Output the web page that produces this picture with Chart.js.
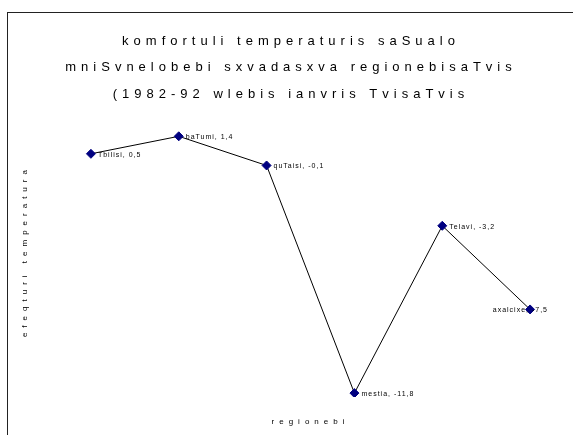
<!DOCTYPE html>
<html>
<head>
<meta charset="utf-8">
<script src="https://cdn.jsdelivr.net/npm/chart.js@4"></script>
<style>
    html, body { margin: 0; padding: 0; background: #fff; overflow: hidden; width: 573px; height: 435px; }
    #frame { position: absolute; left: 7px; top: 12px; width: 600px; height: 440px; border: 1px solid #222; background: #fff; }
    #chart { display: block; }
</style>
</head>
<body>
<div id="frame"><canvas id="chart" width="600" height="440"></canvas></div>
<script>
// ─── data ───
const titleLines = [
    'komfortuli temperaturis saSualo',
    'mniSvnelobebi sxvadasxva regionebisaTvis',
    '(1982-92 wlebis ianvris TvisaTvis'
];
const regions = ['Tbilisi', 'baTumi', 'quTaisi', 'mestia', 'Telavi', 'axalcixe'];
const temps = [0.5, 1.4, -0.1, -11.8, -3.2, -7.5];
const xTitle = 'regionebi';
const yTitle = 'efeqturi temperatura';
const yMin = -12;
const yMax = 3;

const fontFamily = '"Liberation Sans", Arial, sans-serif';

function fmt(v) {
    return v.toFixed(1).replace('.', ',');
}

// wide letter spacing for title / axis titles, tight for point labels
const spacingPlugin = {
    id: 'spacing',
    beforeDraw(chart) {
        chart.ctx.letterSpacing = '5px';
    },
    beforeDatasetsDraw(chart) {
        chart.ctx.letterSpacing = '0px';
    },
    afterDatasetsDraw(chart) {
        const ctx = chart.ctx;
        const meta = chart.getDatasetMeta(0);
        ctx.save();
        ctx.letterSpacing = '1px';
        ctx.font = '7px ' + fontFamily;
        ctx.fillStyle = '#000';
        ctx.textBaseline = 'middle';
        ctx.textAlign = 'left';
        meta.data.forEach((pt, i) => {
            const text = regions[i] + ', ' + fmt(temps[i]);
            const w = ctx.measureText(text).width;
            const x = Math.min(pt.x + 7, chart.chartArea.right - 26 - w);
            ctx.fillText(text, x, pt.y + 1);
        });
        ctx.restore();
    },
    afterDraw(chart) {
        chart.ctx.letterSpacing = '0px';
    }
};

new Chart(document.getElementById('chart'), {
    type: 'line',
    data: {
        labels: regions,
        datasets: [{
            data: temps,
            borderColor: '#000',
            borderWidth: 1,
            tension: 0,
            fill: false,
            pointStyle: 'rectRot',
            pointRadius: 4.5,
            pointBackgroundColor: '#000080',
            pointBorderColor: '#000080',
            pointBorderWidth: 1
        }]
    },
    options: {
        responsive: false,
        animation: false,
        layout: { padding: { left: 0, right: 34, top: 0, bottom: 0 } },
        scales: {
            x: {
                offset: true,
                grid: { display: false, drawTicks: false },
                border: { display: false },
                ticks: { display: false },
                title: {
                    display: true,
                    text: xTitle,
                    color: '#000',
                    font: { family: fontFamily, size: 8 },
                    padding: { top: 0, bottom: 26 }
                },
                afterFit(scale) { scale.height = 56; }
            },
            y: {
                min: yMin,
                max: yMax,
                grid: { display: false, drawTicks: false },
                border: { display: false },
                ticks: { display: false },
                title: {
                    display: true,
                    text: yTitle,
                    color: '#000',
                    font: { family: fontFamily, size: 8 },
                    padding: { top: 12, bottom: 0 }
                },
                afterFit(scale) { scale.width = 39; }
            }
        },
        plugins: {
            legend: { display: false },
            tooltip: { enabled: false },
            title: {
                display: true,
                text: titleLines,
                color: '#000',
                font: { family: fontFamily, size: 13, weight: 'normal', lineHeight: 2.03 },
                padding: { top: 15, bottom: -2 }
            }
        }
    },
    plugins: [spacingPlugin]
});
</script>
</body>
</html>
